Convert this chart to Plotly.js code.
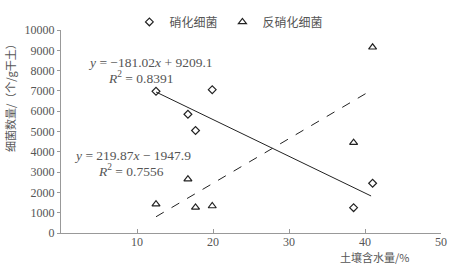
<!DOCTYPE html>
<html>
<head>
<meta charset="utf-8">
<script src="https://cdn.plot.ly/plotly-3.0.1.min.js"></script>
<style>html,body{margin:0;padding:0;background:#fff;}#chart{width:449px;height:265px;}</style>
</head>
<body>
<div id="chart"></div>
<script>
// Data
const nitrifyingX = [12.5, 19.9, 16.7, 17.7, 41.0, 38.5];
const nitrifyingY = [6980, 7060, 5850, 5050, 2450, 1250];
const denitrifyingX = [12.5, 16.7, 17.7, 19.9, 38.5, 41.0];
const denitrifyingY = [1420, 2650, 1260, 1330, 4450, 9150];
// Trend line endpoints (from the displayed regression equations)
const nitrifyingTrendX = [12.5, 40.8];
const nitrifyingTrendY = [6946, 1824];
const denitrifyingTrendX = [12.5, 40.8];
const denitrifyingTrendY = [800, 7023];
const seriesNames = ['硝化细菌', '反硝化细菌'];
const xTicks = [10, 20, 30, 40, 50];
const yTicks = [0, 1000, 2000, 3000, 4000, 5000, 6000, 7000, 8000, 9000, 10000];
const yTickText = ['0', '1000', '2000', '3000', '4000', '5000', '6000', '7000', '8000', '9000', '10000'];

const serif = 'Liberation Serif, DejaVu Serif, serif';
const cjk = 'Noto Sans CJK SC, sans-serif';
const textColor = '#555555';

const traces = [
  {x: nitrifyingX, y: nitrifyingY, mode: 'markers', type: 'scatter', name: seriesNames[0],
   marker: {symbol: 'diamond-open', size: 6, color: '#222', line: {width: 1.2, color: '#222'}}},
  {x: denitrifyingX, y: denitrifyingY, mode: 'markers', type: 'scatter', name: seriesNames[1],
   marker: {symbol: 'triangle-up-open', size: 7, color: '#222', line: {width: 1.2, color: '#222'}}},
  {x: nitrifyingTrendX, y: nitrifyingTrendY, mode: 'lines', type: 'scatter', showlegend: false,
   line: {color: '#222', width: 1}},
  {x: denitrifyingTrendX, y: denitrifyingTrendY, mode: 'lines', type: 'scatter', showlegend: false,
   line: {color: '#222', width: 1, dash: 'dash'}}
];

const layout = {
  width: 449, height: 265,
  margin: {l: 61, r: 8, t: 7, b: 32},
  paper_bgcolor: '#fff', plot_bgcolor: '#fff',
  showlegend: true,
  legend: {orientation: 'h', x: 0.18, y: 1.04, xanchor: 'left', yanchor: 'middle',
    font: {family: cjk, size: 12, color: textColor}, bgcolor: 'rgba(0,0,0,0)',
    itemwidth: 30, tracegroupgap: 0},
  xaxis: {range: [0, 50], tickvals: xTicks, ticks: 'inside', ticklen: 4, tickcolor: '#999',
    ticklabelstandoff: -2,
    showline: true, linecolor: '#999', linewidth: 1, showgrid: false, zeroline: false,
    tickfont: {family: serif, size: 12, color: textColor}},
  yaxis: {range: [0, 10000], tickvals: yTicks, ticktext: yTickText, ticks: 'outside', ticklen: 3, tickcolor: '#999',
    showline: true, linecolor: '#999', linewidth: 1, showgrid: false, zeroline: false,
    tickfont: {family: serif, size: 12, color: textColor}},
  annotations: [
    {xref: 'paper', yref: 'paper', x: -0.134, y: 0.68, xanchor: 'center', yanchor: 'middle',
     text: '细菌数量/（个/g干土）', textangle: -90,
     showarrow: false, font: {family: cjk, size: 11, color: textColor}},
    {xref: 'paper', yref: 'paper', x: 0.92, y: -0.116, xanchor: 'right', yanchor: 'middle',
     text: '土壤含水量/%', showarrow: false, font: {family: cjk, size: 11, color: textColor}},
    {xref: 'paper', yref: 'paper', x: 0.066, y: 0.838, xanchor: 'left', yanchor: 'middle',
     text: '<i>y</i> = −181.02<i>x</i> + 9209.1', showarrow: false,
     font: {family: serif, size: 13.5, color: textColor}},
    {xref: 'paper', yref: 'paper', x: 0.119, y: 0.764, xanchor: 'left', yanchor: 'middle',
     text: '<i>R</i><sup>2</sup> = 0.8391', showarrow: false,
     font: {family: serif, size: 13.5, color: textColor}},
    {xref: 'paper', yref: 'paper', x: 0.03, y: 0.381, xanchor: 'left', yanchor: 'middle',
     text: '<i>y</i> = 219.87<i>x</i> − 1947.9', showarrow: false,
     font: {family: serif, size: 13.5, color: textColor}},
    {xref: 'paper', yref: 'paper', x: 0.093, y: 0.308, xanchor: 'left', yanchor: 'middle',
     text: '<i>R</i><sup>2</sup> = 0.7556', showarrow: false,
     font: {family: serif, size: 13.5, color: textColor}}
  ]
};

Plotly.newPlot('chart', traces, layout, {displayModeBar: false, staticPlot: true});
</script>
</body>
</html>
